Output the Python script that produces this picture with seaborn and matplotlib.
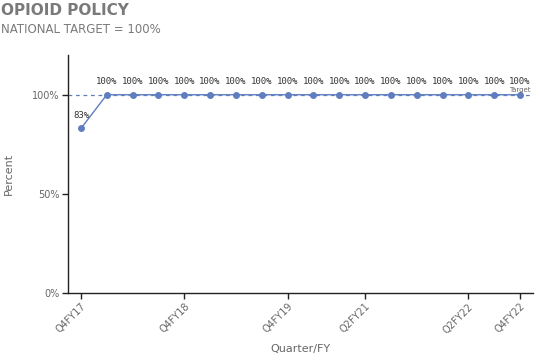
import matplotlib
matplotlib.use("Agg")
import matplotlib.pyplot as plt
import seaborn as sns
import pandas as pd

# Daten
quarters = ["Q4FY17", "Q1FY18", "Q2FY18", "Q3FY18", "Q4FY18", "Q1FY19",
            "Q2FY19", "Q3FY19", "Q4FY19", "Q4FY20", "Q1FY21", "Q2FY21",
            "Q3FY21", "Q4FY21", "Q1FY22", "Q2FY22", "Q3FY22", "Q4FY22"]
percent = [83, 100, 100, 100, 100, 100, 100, 100, 100,
           100, 100, 100, 100, 100, 100, 100, 100, 100]
shown_ticks = ["Q4FY17", "Q4FY18", "Q4FY19", "Q2FY21", "Q2FY22", "Q4FY22"]
target = 100

df = pd.DataFrame({"quarter": quarters, "percent": percent})

sns.set_theme(style="white")
plt.rcParams["font.family"] = ["DejaVu Sans"]

line_col = "#5f7dbf"
grey = "#666666"

fig = plt.figure(figsize=(5.4, 3.6), dpi=100)
ax = fig.add_axes([0.126, 0.186, 0.861, 0.661])

ax.axhline(target, color=line_col, linestyle=(0, (3, 3)), linewidth=0.9, zorder=1)
sns.lineplot(data=df, x="quarter", y="percent", ax=ax, color=line_col,
             marker="o", markersize=5, markeredgewidth=0, linewidth=1, sort=False,
             zorder=2)

for q, v in zip(quarters, percent):
    ax.annotate(f"{v}%", (q, v), xytext=(0, 6), textcoords="offset points",
                ha="center", va="bottom", fontsize=6.5, family="DejaVu Sans Mono",
                color="#333333")
# Beschriftung der Ziellinie (liegt im Original fast auf dem letzten Wert)
ax.annotate("Target", (len(quarters) - 1, target), xytext=(0, 1.5),
            textcoords="offset points", ha="center", va="bottom",
            fontsize=5, color=grey)

ax.set_xlim(-0.5, len(quarters) - 0.5)
ax.set_ylim(0, 120)
ax.set_yticks([0, 50, 100])
ax.set_yticklabels(["0%", "50%", "100%"], fontsize=7, color=grey)
ax.set_xticks([quarters.index(q) for q in shown_ticks])
ax.set_xticklabels(shown_ticks, rotation=45, ha="right", rotation_mode="anchor",
                   fontsize=7, color=grey)
ax.tick_params(axis="both", length=4, width=1, color="#222222", pad=2, bottom=True, left=True)
ax.set_xlabel("Quarter/FY", fontsize=8, color=grey, labelpad=6)
ax.set_ylabel("Percent", fontsize=8, color=grey, labelpad=13)

sns.despine(ax=ax)
for s in ["left", "bottom"]:
    ax.spines[s].set_color("#222222")
    ax.spines[s].set_linewidth(1)

fig.text(0.002, 0.972, "OPIOID POLICY", fontsize=11, fontweight="bold",
         color="#7a7a7a", va="center")
fig.text(0.002, 0.918, "NATIONAL TARGET = 100%", fontsize=8.5,
         color="#7a7a7a", va="center")

fig.savefig("out.png", dpi=100)
